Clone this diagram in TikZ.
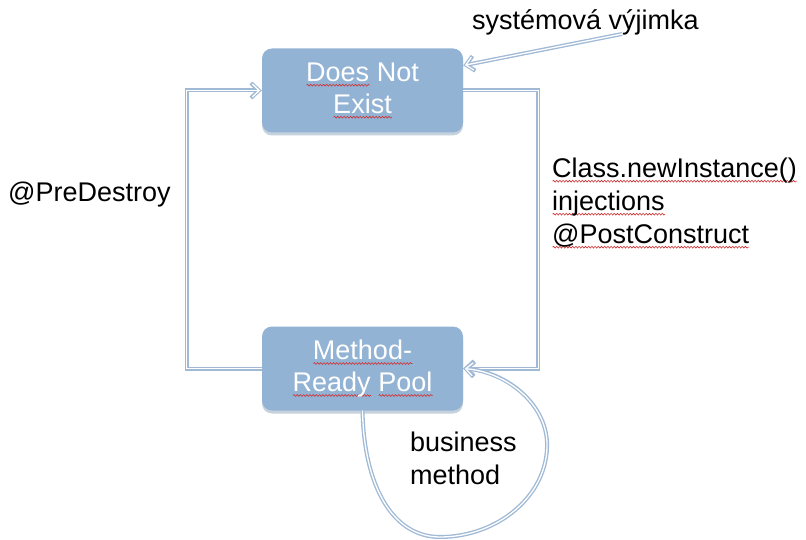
\documentclass[tikz,border=0pt]{standalone}
\usepackage{fontspec}
\setmainfont{Liberation Sans}
\usetikzlibrary{arrows.meta,shadows,decorations.pathmorphing}

\definecolor{boxblue}{HTML}{93B3D5}
\definecolor{shadowblue}{HTML}{7F98B3}
\definecolor{connblue}{HTML}{A0BAD6}
\definecolor{spellred}{HTML}{D03030}

% red wavy underline, as a spell checker marks unknown words
\newsavebox\spellbox
\newcommand\spellmark[1]{\leavevmode\sbox\spellbox{#1}%
  \rlap{\tikz[baseline=0pt]\draw[spellred, sharp corners, line width=0.6pt,
      decorate, decoration={snake, amplitude=0.9pt, segment length=3.2pt}]
      (0pt,-4pt) -- (\the\wd\spellbox,-4pt);}%
  \usebox\spellbox}

\tikzset{
  state/.style={draw=none, fill=boxblue, rounded corners=10pt,
    minimum width=201pt, minimum height=84pt, align=center,
    text=white, font=\fontsize{27}{32}\selectfont,
    drop shadow={shadow xshift=0pt, shadow yshift=-3pt, fill=shadowblue, opacity=0.45}},
  label/.style={font=\fontsize{27}{33}\selectfont, text=black, align=left, inner sep=0pt},
  conn/.style={line width=1.3pt, draw=white, line join=miter,
    -{Straight Barb[length=7pt, width=13pt, line width=1.3pt]}, shorten >=1.6pt,
    preaction={draw=connblue, line width=4pt, shorten >=0pt,
      -{Straight Barb[length=8pt, width=15pt, line width=4pt]}}},
}

\begin{document}
\begin{tikzpicture}[x=1pt, y=-1pt]
  \useasboundingbox (0,0) rectangle (806,540);

  % the two states
  \node[state] (dne) at (362.5,90.5) {\spellmark{Does} Not\\\spellmark{Exist}};
  \node[state] (pool) at (362.5,368.5) {\spellmark{Method-}\\\spellmark{Ready} \spellmark{Pool}};

  % transitions between the states
  \draw[conn] (pool.west) -- ([xshift=-75pt]pool.west) |- (dne.west);
  \draw[conn] (dne.east) -- ([xshift=75pt]dne.east) |- (pool.east);

  % self loop for a business method call
  \draw[conn] (pool.south) .. controls (364,485) and (392,537) .. (440,537)
    .. controls (498,537) and (549,495) .. (547,442)
    .. controls (545,402) and (505,372) .. (pool.east);

  % system exception back to the first state
  \coordinate (exc) at (622,34);
  \draw[conn] (exc) -- ([yshift=25pt]dne.east);

  % labels
  \node[label, anchor=west] (sysex) at (472,22) {systémová výjimka};
  \node[label, anchor=west] (predestroy) at (8,195) {@PreDestroy};
  \node[label, anchor=west] (create) at (552,203)
    {\spellmark{Class.newInstance()}\\\spellmark{injections}\\\spellmark{@PostConstruct}};
  \node[label, anchor=west] (business) at (410,458) {business\\method};
\end{tikzpicture}
\end{document}
